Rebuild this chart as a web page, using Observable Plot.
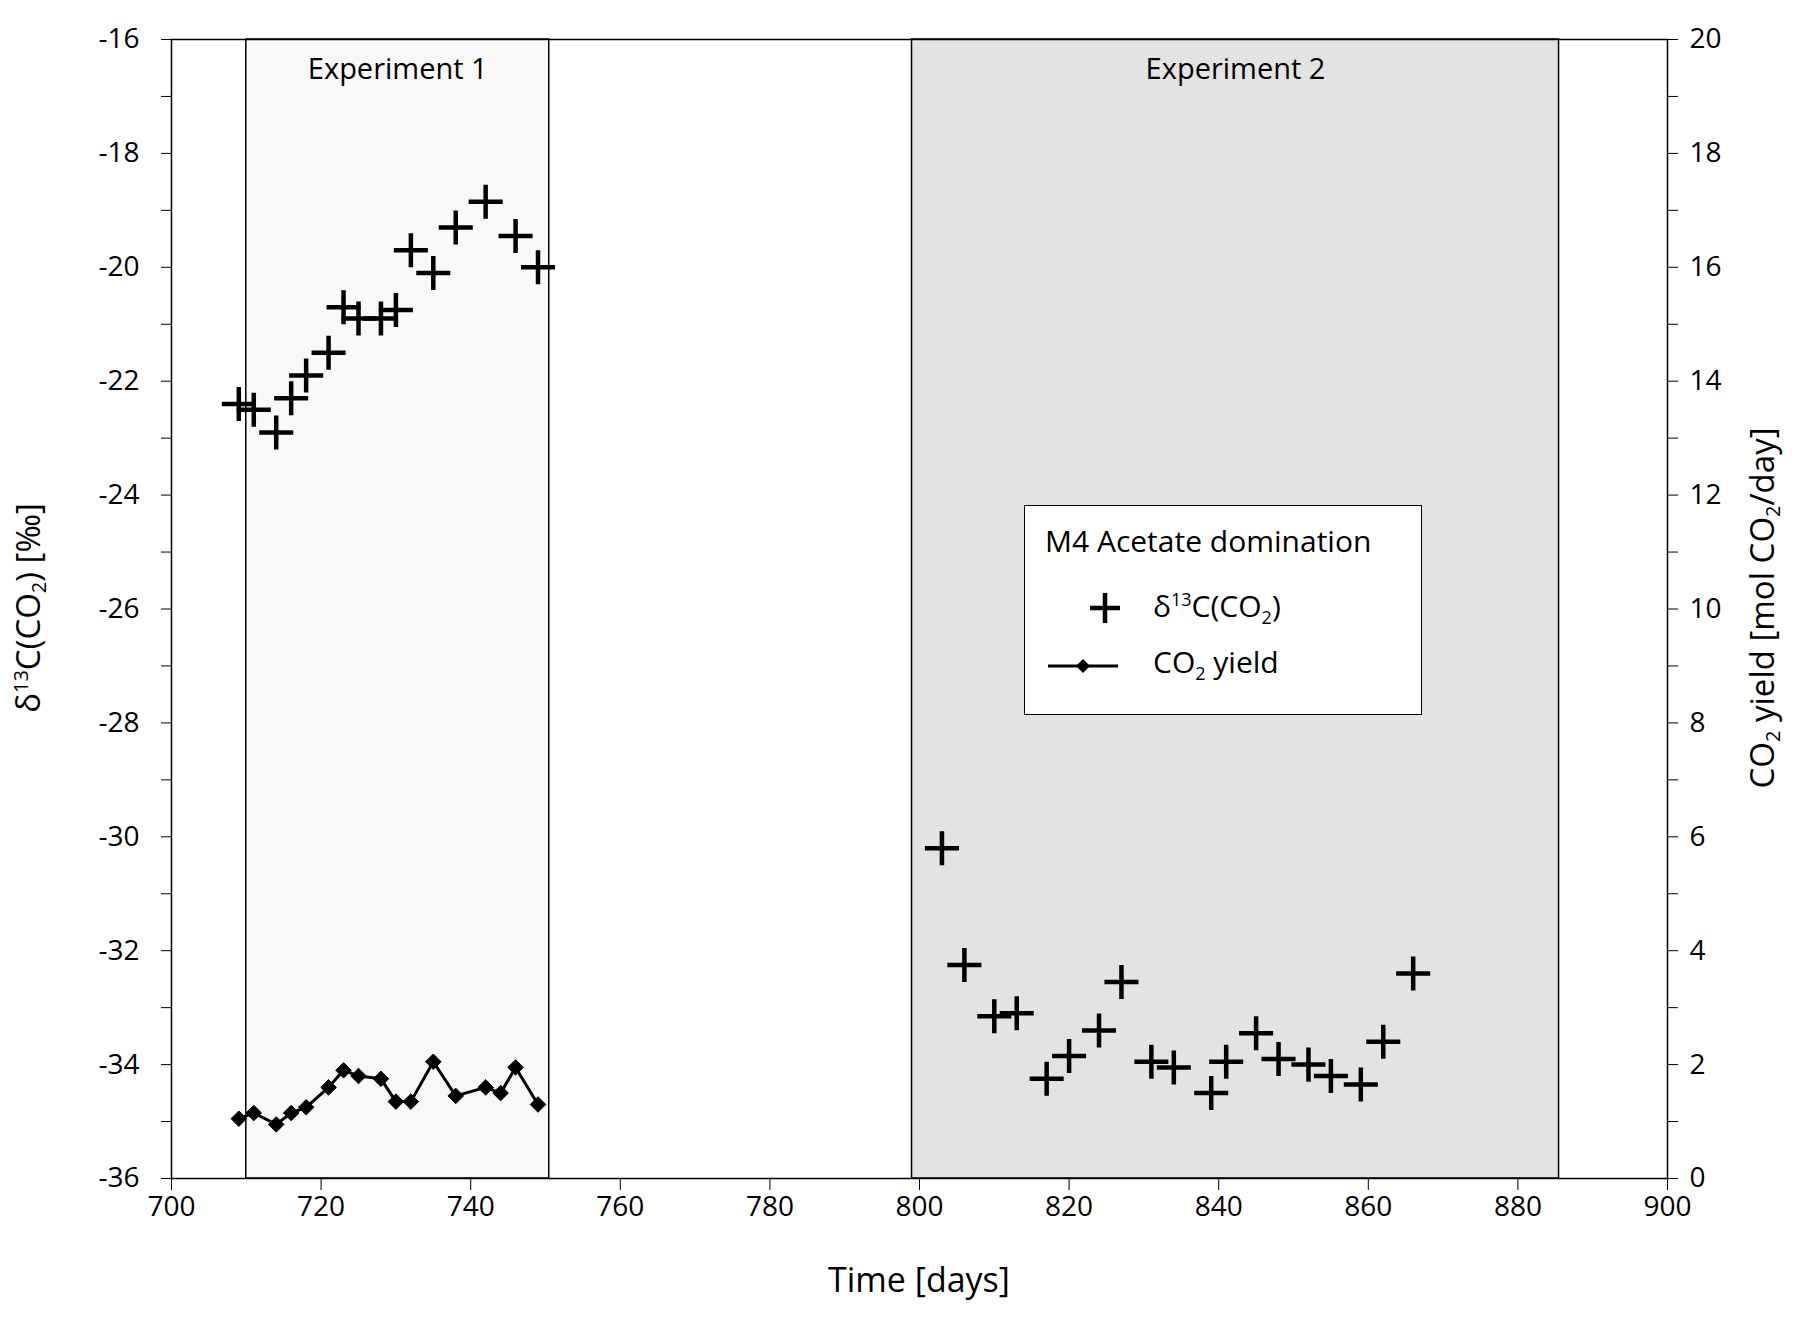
<!DOCTYPE html>
<html><head><meta charset="utf-8">
<script src="https://cdn.jsdelivr.net/npm/d3@7"></script>
<script src="https://cdn.jsdelivr.net/npm/@observablehq/plot@0.6"></script>
<style>body{margin:0;background:#fff;font-family:"Open Sans",sans-serif}#wrap{position:relative;width:1811px;height:1320px}
#leg{position:absolute;left:1024px;top:505px;width:398px;height:210px;border:1.5px solid #000;background:#fff;font-size:30px;box-sizing:border-box}
</style></head><body><div id="wrap"><div id="chart"></div>
<div id="leg">
<div style="position:absolute;left:20px;top:14px">M4 Acetate domination</div>
<svg style="position:absolute;left:0;top:0" width="397" height="208">
<path d="M65,102 h30 M80,87 v30" stroke="#000" stroke-width="4.5"/>
<path d="M23,160 h70" stroke="#000" stroke-width="3"/><path d="M58,153 l7,7 l-7,7 l-7,-7z" fill="#000"/>
</svg>
<div style="position:absolute;left:128px;top:79px">δ<sup style="font-size:18px">13</sup>C(CO<sub style="font-size:18px">2</sub>)</div>
<div style="position:absolute;left:128px;top:135px">CO<sub style="font-size:18px">2</sub> yield</div>
</div></div>
<script>
const d13Days=[709,711,714,716,718,721,723,725,728,730,732,735,738,742,746,749,803,806,810,813,817,820,824,827,831,834,839,841,845,848,852,855,859,862,866];
const d13Vals=[-22.4,-22.5,-22.9,-22.3,-21.9,-21.5,-20.7,-20.9,-20.9,-20.75,-19.7,-20.1,-19.3,-18.85,-19.45,-20.0,-30.2,-32.25,-33.15,-33.1,-34.25,-33.85,-33.4,-32.55,-33.95,-34.05,-34.5,-33.95,-33.45,-33.9,-34.0,-34.2,-34.35,-33.6,-32.4];
const yDays=[709,711,714,716,718,721,723,725,728,730,732,735,738,742,744,746,749];
const yVals=[1.05,1.15,0.95,1.15,1.25,1.6,1.9,1.8,1.75,1.35,1.35,2.05,1.45,1.6,1.5,1.95,1.3];
const exps=[{x1:710,x2:750.5,label:"Experiment 1",fill:"#f8f8f8"},{x1:799,x2:885.5,label:"Experiment 2",fill:"#e3e3e3"}];
const d13=d13Days.map((d,i)=>({d,v:d13Vals[i]}));
const yl=yDays.map((d,i)=>({d,v:yVals[i]-36}));
const fs=28;
const p=Plot.plot({width:1811,height:1320,marginLeft:171,marginRight:144,marginTop:39,marginBottom:142,
 style:{fontFamily:"Open Sans",fontSize:fs+"px",color:"#000",background:"#fff"},
 x:{domain:[700,900]},y:{domain:[-36,-16]},
 marks:[
  Plot.rect(exps,{x1:"x1",x2:"x2",y1:-36,y2:-16,fill:"fill",stroke:"#000",strokeWidth:1.5}),
  Plot.text(exps,{x:d=>(d.x1+d.x2)/2,y:-16,dy:30,text:"label",fontSize:29}),
  Plot.frame({stroke:"#000",strokeWidth:1.5}),
  Plot.axisX({ticks:d3.range(700,901,20),tickSize:12,tickPadding:6,fontSize:fs,label:null}),
  Plot.axisY({ticks:d3.range(-36,-15,2),tickSize:10,tickPadding:22,fontSize:fs,tickFormat:d=>String(d).replace("−","-"),label:null}),
  Plot.axisY({ticks:d3.range(-35,-16,2),tickSize:10,text:null,label:null}),
  Plot.axisY({anchor:"right",ticks:d3.range(-36,-15,2),tickSize:10,tickPadding:12,fontSize:fs,tickFormat:d=>String(d+36),label:null}),
  Plot.axisY({anchor:"right",ticks:d3.range(-35,-16,2),tickSize:10,text:null,label:null}),
  Plot.line(yl,{x:"d",y:"v",stroke:"#000",strokeWidth:3}),
  Plot.dot(yl,{x:"d",y:"v",symbol:"diamond2",r:7,fill:"#000",stroke:"#000",strokeWidth:1}),
  Plot.dot(d13,{x:"d",y:"v",symbol:"plus",r:11,stroke:"#000",strokeWidth:4.5})
 ]});
document.getElementById("chart").appendChild(p);
const svg=d3.select(p);
svg.append("text").attr("x",919).attr("y",1292).attr("text-anchor","middle").attr("font-size",34).attr("font-family","Open Sans").text("Time [days]");
svg.append("text").attr("transform","translate(40,608) rotate(-90)").attr("text-anchor","middle").attr("font-size",33).attr("font-family","Open Sans")
 .html('δ<tspan font-size="20" dy="-12">13</tspan><tspan dy="12">C(CO</tspan><tspan font-size="20" dy="6">2</tspan><tspan dy="-6">) [‰]</tspan>');
svg.append("text").attr("transform","translate(1774,608) rotate(-90)").attr("text-anchor","middle").attr("font-size",33).attr("font-family","Open Sans")
 .html('CO<tspan font-size="20" dy="6">2</tspan><tspan dy="-6"> yield [mol CO</tspan><tspan font-size="20" dy="6">2</tspan><tspan dy="-6">/day]</tspan>');
</script></body></html>
